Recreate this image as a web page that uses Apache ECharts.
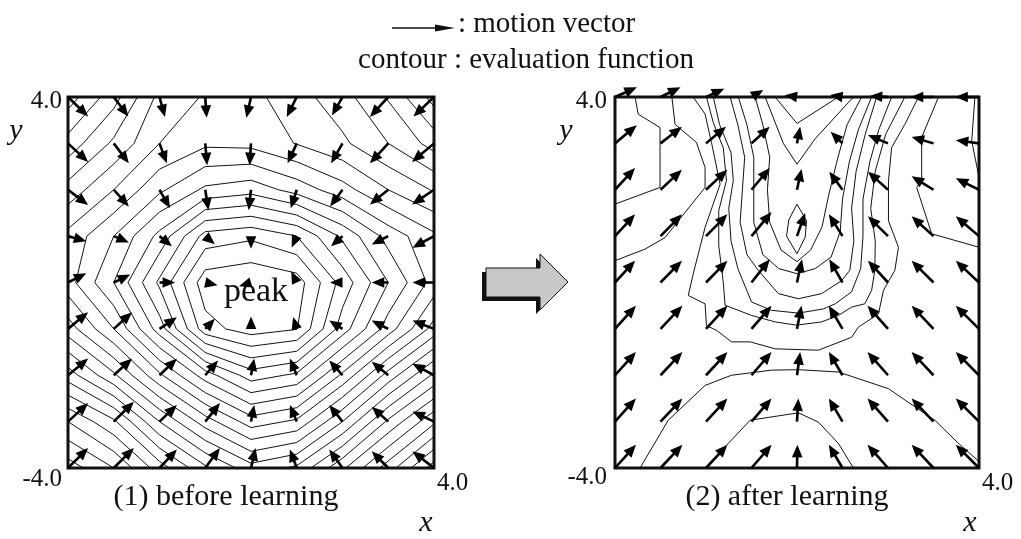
<!DOCTYPE html>
<html><head><meta charset="utf-8">
<script src="https://cdn.jsdelivr.net/npm/echarts@6/dist/echarts.min.js"></script>
<style>html,body{margin:0;padding:0;background:#fff}#c{width:1021px;height:539px}</style>
</head><body><div id="c"></div>
<script>
// ---------- data ----------
const gridX = [-4, -3, -2, -1, 0, 1, 2, 3, 4];
const gridY = [4, 3, 2, 1, 0, -1, -2, -3, -4];
const tickLabels = ['-4.0', '4.0'];

// evaluation function before learning (rows y=4..-4, cols x=-4..4)
const evalBefore = [
  [9.5, 11.6, 14.3, 15.1, 15.3, 14.4, 13.4, 11.9, 9.6],
  [11.4, 13.2, 15.0, 15.8, 15.7, 14.95, 14.2, 13.0, 11.6],
  [13.4, 15.0, 16.8, 18.2, 18.6, 17.6, 16.4, 15.0, 13.9],
  [15.3, 17.0, 19.3, 22.4, 22.8, 22.0, 19.8, 17.6, 16.2],
  [15.6, 18.0, 21.2, 24.6, 24.9, 24.5, 21.6, 19.0, 16.6],
  [13.5, 16.0, 19.5, 23.6, 24.5, 24.05, 20.5, 17.5, 14.6],
  [10.5, 12.8, 15.8, 18.5, 20.5, 19.8, 16.8, 13.6, 10.8],
  [7.0, 8.8, 12.0, 14.5, 16.5, 15.8, 13.0, 9.8, 7.2],
  [4.5, 6.0, 8.5, 10.8, 12.6, 11.8, 9.2, 6.5, 3.5]
];
const levelsBefore = [4, 5, 6, 7, 8, 9, 10, 11, 12, 13, 14, 15, 16, 17, 18, 19, 20, 21, 22, 23, 24];

// motion vectors before learning
const vecBeforeDX = [
  [0.44, 0.32, 0.12, 0.03, -0.10, -0.22, -0.23, -0.40, -0.45],
  [0.44, 0.33, 0.16, 0.04, -0.03, -0.20, -0.25, -0.40, -0.48],
  [0.44, 0.33, 0.23, 0.07, -0.05, -0.13, -0.27, -0.40, -0.48],
  [0.40, 0.33, 0.27, 0.12, 0.00, -0.10, -0.25, -0.36, -0.47],
  [0.40, 0.36, 0.34, 0.14, -0.10, -0.05, -0.22, -0.36, -0.47],
  [0.44, 0.40, 0.38, 0.21, 0.00, -0.04, -0.29, -0.36, -0.47],
  [0.44, 0.40, 0.38, 0.28, 0.07, -0.15, -0.29, -0.36, -0.47],
  [0.44, 0.44, 0.38, 0.32, 0.07, -0.15, -0.29, -0.36, -0.47],
  [0.44, 0.44, 0.38, 0.32, 0.10, -0.15, -0.29, -0.36, -0.47]
];
const vecBeforeDY = [
  [-0.42, -0.42, -0.43, -0.45, -0.45, -0.43, -0.40, -0.43, -0.42],
  [-0.40, -0.43, -0.43, -0.47, -0.47, -0.43, -0.43, -0.43, -0.40],
  [-0.33, -0.36, -0.40, -0.44, -0.44, -0.40, -0.36, -0.32, -0.32],
  [-0.11, -0.14, -0.22, -0.10, -0.17, -0.22, -0.22, -0.18, -0.25],
  [0.20, 0.17, 0.00, -0.03, -0.03, 0.10, 0.00, 0.00, 0.00],
  [0.36, 0.36, 0.25, 0.22, 0.10, 0.13, 0.18, 0.18, 0.18],
  [0.36, 0.36, 0.36, 0.32, 0.36, 0.36, 0.32, 0.29, 0.25],
  [0.40, 0.43, 0.36, 0.40, 0.36, 0.36, 0.36, 0.32, 0.22],
  [0.43, 0.43, 0.40, 0.43, 0.43, 0.40, 0.40, 0.36, 0.36]
];

// motion vectors after learning
const vecAfterDX = [
  [0.48, 0.44, 0.40, 0.26, -0.15, -0.20, -0.40, -0.50, -0.52],
  [0.48, 0.47, 0.44, 0.40, 0.07, -0.26, -0.44, -0.48, -0.51],
  [0.44, 0.47, 0.47, 0.40, 0.10, -0.29, -0.44, -0.48, -0.51],
  [0.44, 0.47, 0.47, 0.44, 0.18, -0.30, -0.44, -0.48, -0.51],
  [0.44, 0.47, 0.47, 0.40, 0.11, -0.29, -0.44, -0.48, -0.51],
  [0.46, 0.48, 0.47, 0.44, 0.10, -0.30, -0.45, -0.48, -0.51],
  [0.46, 0.48, 0.47, 0.44, 0.07, -0.30, -0.45, -0.48, -0.51],
  [0.46, 0.48, 0.47, 0.44, 0.03, -0.30, -0.45, -0.48, -0.51],
  [0.46, 0.48, 0.47, 0.44, 0.01, -0.30, -0.45, -0.48, -0.51]
];
const vecAfterDY = [
  [0.21, 0.21, 0.18, 0.15, 0.02, 0.03, 0.02, 0.00, 0.00],
  [0.39, 0.36, 0.36, 0.36, 0.36, 0.25, 0.18, 0.14, 0.07],
  [0.47, 0.43, 0.43, 0.47, 0.45, 0.39, 0.39, 0.29, 0.25],
  [0.47, 0.47, 0.47, 0.52, 0.50, 0.47, 0.43, 0.43, 0.43],
  [0.47, 0.47, 0.47, 0.50, 0.50, 0.50, 0.47, 0.47, 0.47],
  [0.50, 0.50, 0.50, 0.50, 0.50, 0.50, 0.50, 0.50, 0.50],
  [0.50, 0.50, 0.50, 0.50, 0.50, 0.50, 0.50, 0.50, 0.50],
  [0.50, 0.50, 0.50, 0.50, 0.50, 0.50, 0.50, 0.50, 0.50],
  [0.50, 0.50, 0.50, 0.50, 0.50, 0.50, 0.50, 0.50, 0.50]
];

// contour lines after learning (traced, data coordinates)
const afterLineA = [[-3.56,4],[-3.49,3.63],[-3.01,3.34],[-3.01,2.05],[-4,1.69]];
const afterLineB = [[-2.75,4],[-2.68,3.41],[-2.21,3.02],[-2.02,2.48],[-2.02,2.05],[-2.9,0.97],[-3.34,0.72],[-4,0.47]];
const afterLineC = [[-2.28,4],[-2.02,3.63],[-1.88,3.02],[-1.69,2.12],[-2.02,1.19],[-2.28,0.19],[-2.39,-0.28],[-2.02,-0.46],[-1.99,-0.93],[-1.77,-1.03],[-1.44,-1.28],[-1.03,-1.28],[-0.48,-1.43],[0.47,-1.46],[1.2,-1.18],[1.35,-0.96],[1.79,-0.68],[1.9,-0.17],[2.15,0.26],[2.23,0.76],[2.01,1.33],[2.01,2.19],[2.08,2.91],[2.37,3.41],[2.67,4]];
const afterLineD = [[3.11,4],[2.74,3.13],[2.74,2.19],[2.63,2.05],[2.96,1.05],[4,0.76]];
const afterLineE = [[3.91,4],[3.84,3.05],[4,2.27]];
const afterLineF = [[-3.45,-4],[-2.83,-2.97],[-2.02,-2.22],[-1.44,-2.0],[-0.56,-1.89],[0.03,-1.88],[0.91,-1.93],[2.01,-2.29],[2.59,-2.68],[3.03,-2.97],[3.55,-3.47],[4,-3.86]];
const afterLineG = [[-2.02,-4],[-1.51,-3.47],[-1.03,-2.97],[0.03,-2.81],[0.47,-3.01],[0.91,-3.47],[1.24,-4]];
const afterLineU2 = [[-1.99,4],[-1.84,3.45],[-1.62,2.9],[-1.55,2.2],[-1.72,1.55],[-1.72,0.8],[-1.62,0.0],[-1.58,-0.49],[-1.0,-0.71],[-0.48,-0.85],[-0.01,-0.92],[0.54,-0.85],[0.91,-0.71],[1.2,-0.53],[1.49,-0.46],[1.64,-0.17],[1.71,0.26],[1.72,0.9],[1.62,1.6],[1.72,2.4],[1.95,3.2],[2.37,4]];
const afterLineU3 = [[-1.84,4],[-1.7,3.4],[-1.45,2.8],[-1.4,2.2],[-1.5,1.6],[-1.45,0.9],[-1.3,0.3],[-1.0,-0.42],[-0.56,-0.6],[0.03,-0.66],[0.58,-0.57],[0.84,-0.46],[1.2,-0.2],[1.4,0.3],[1.45,1.0],[1.45,1.8],[1.6,2.6],[1.8,3.3],[2.08,4]];
const afterLineU4 = [[-1.47,4],[-1.3,3.4],[-1.15,2.7],[-1.2,2.0],[-1.25,1.3],[-1.1,0.6],[-0.85,0.26],[-0.41,-0.24],[0.03,-0.35],[0.54,-0.24],[0.98,0.04],[1.16,0.26],[1.25,0.9],[1.2,1.6],[1.3,2.4],[1.5,3.2],[1.75,4]];
const afterLineU5 = [[-1.29,4],[-1.1,3.4],[-0.95,2.7],[-0.95,2.0],[-0.95,1.3],[-0.75,0.6],[-0.4,0.3],[0.0,0.19],[0.4,0.3],[0.75,0.55],[0.95,1.1],[1.0,1.8],[1.15,2.6],[1.35,3.3],[1.64,4]];
const afterLineU6 = [[-0.92,4],[-0.75,3.4],[-0.6,2.7],[-0.65,2.0],[-0.6,1.3],[-0.35,0.7],[0.0,0.45],[0.3,0.7],[0.55,1.2],[0.7,1.9],[0.9,2.7],[1.1,3.4],[1.42,4]];
const afterLineV1 = [[-0.48,4],[0.0,3.43],[0.91,4]];
const afterLineV2 = [[-0.7,4],[-0.3,3.0],[0.0,2.55],[0.4,3.1],[1.24,4]];
const afterLineLoop = [[0.0,1.69],[0.21,1.33],[0.18,0.98],[0.0,0.62],[-0.23,1.0],[-0.18,1.35],[0.0,1.69]];

// ---------- build ----------
function contourSegments(V, levels) {
  const segs = [];
  for (let r = 0; r < gridY.length - 1; r++) {
    for (let c = 0; c < gridX.length - 1; c++) {
      const p = [
        [gridX[c], gridY[r], V[r][c]],
        [gridX[c + 1], gridY[r], V[r][c + 1]],
        [gridX[c + 1], gridY[r + 1], V[r + 1][c + 1]],
        [gridX[c], gridY[r + 1], V[r + 1][c]]
      ];
      levels.forEach(L => {
        const pts = [];
        for (let e = 0; e < 4; e++) {
          const a = p[e], b = p[(e + 1) % 4];
          if ((a[2] < L) !== (b[2] < L)) {
            const t = (L - a[2]) / (b[2] - a[2]);
            pts.push([a[0] + t * (b[0] - a[0]), a[1] + t * (b[1] - a[1])]);
          }
        }
        if (pts.length === 2) segs.push({ coords: pts });
        else if (pts.length === 4) {
          segs.push({ coords: [pts[0], pts[1]] });
          segs.push({ coords: [pts[2], pts[3]] });
        }
      });
    }
  }
  return segs;
}
function vectorData(DX, DY) {
  const out = [];
  gridY.forEach((y, r) => gridX.forEach((x, c) => out.push([x, y, DX[r][c], DY[r][c]])));
  return out;
}
function arrowRender(params, api) {
  const x = api.value(0), y = api.value(1), dx = api.value(2), dy = api.value(3);
  const s = api.coord([x, y]);
  let e = api.coord([x + dx, y + dy]);
  let vx = e[0] - s[0], vy = e[1] - s[1];
  let len = Math.hypot(vx, vy) || 1;
  const ux = vx / len, uy = vy / len;
  const hl = 12.5, hw = 5.3;
  if (len < hl) { len = hl; e = [s[0] + ux * hl, s[1] + uy * hl]; }
  const bx = e[0] - ux * hl, by = e[1] - uy * hl;
  const ch = [];
  if (len > hl + 0.5) ch.push({ type: 'line', shape: { x1: s[0], y1: s[1], x2: bx + ux, y2: by + uy }, style: { stroke: '#000', lineWidth: 2.6 } });
  ch.push({ type: 'polygon', shape: { points: [[e[0], e[1]], [bx - uy * hw, by + ux * hw], [bx + uy * hw, by - ux * hw]] }, style: { fill: '#000' } });
  return { type: 'group', children: ch };
}

const afterLines = [afterLineA, afterLineB, afterLineC, afterLineD, afterLineE, afterLineF, afterLineG,
  afterLineU2, afterLineU3, afterLineU4, afterLineU5, afterLineU6, afterLineV1, afterLineV2, afterLineLoop];

const serif = "'Liberation Serif','Times New Roman',serif";
const axisCommon = { type: 'value', min: -4, max: 4, interval: 1, axisLine: { show: false }, axisTick: { show: false }, axisLabel: { show: false }, splitLine: { show: false } };

const chart = echarts.init(document.getElementById('c'), null, { renderer: 'canvas' });
function txt(text, x, y, size, opt) {
  return { type: 'text', x: x, y: y, style: Object.assign({ text: text, fontFamily: serif, fontSize: size, fill: '#111', textAlign: 'center', textVerticalAlign: 'middle' }, opt || {}) };
}
const arrowPoly = [[486,268],[540,268],[540,254],[568,282],[540,310],[540,297],[486,297]];
chart.setOption({
  animation: false,
  grid: [
    { left: 68, top: 97, width: 366, height: 371, show: true, borderColor: '#111', borderWidth: 3, backgroundColor: 'transparent' },
    { left: 615, top: 97, width: 364, height: 371, show: true, borderColor: '#111', borderWidth: 3, backgroundColor: 'transparent' }
  ],
  xAxis: [Object.assign({ gridIndex: 0 }, axisCommon), Object.assign({ gridIndex: 1 }, axisCommon)],
  yAxis: [Object.assign({ gridIndex: 0 }, axisCommon), Object.assign({ gridIndex: 1 }, axisCommon)],
  series: [
    { type: 'lines', coordinateSystem: 'cartesian2d', xAxisIndex: 0, yAxisIndex: 0, polyline: false, silent: true,
      lineStyle: { color: '#111', width: 1, opacity: 1 }, data: contourSegments(evalBefore, levelsBefore), z: 2 },
    { type: 'lines', coordinateSystem: 'cartesian2d', xAxisIndex: 1, yAxisIndex: 1, polyline: true, silent: true,
      lineStyle: { color: '#111', width: 1, opacity: 1 }, data: afterLines.map(l => ({ coords: l })), z: 2 },
    { type: 'custom', xAxisIndex: 0, yAxisIndex: 0, renderItem: arrowRender, clip: false, silent: true,
      encode: { x: 0, y: 1 }, data: vectorData(vecBeforeDX, vecBeforeDY), z: 5 },
    { type: 'custom', xAxisIndex: 1, yAxisIndex: 1, renderItem: arrowRender, clip: false, silent: true,
      encode: { x: 0, y: 1 }, data: vectorData(vecAfterDX, vecAfterDY), z: 5 }
  ],
  graphic: [
    // legend
    { type: 'line', shape: { x1: 392, y1: 28, x2: 440, y2: 28 }, style: { stroke: '#111', lineWidth: 1.5 } },
    { type: 'polygon', shape: { points: [[435, 24.5], [455, 28], [435, 31.5]] }, style: { fill: '#111' } },
    txt(': motion vector', 458, 24, 29, { textAlign: 'left' }),
    txt('contour : evaluation function', 526, 60, 29),
    // panel 1 labels
    txt(tickLabels[1], 62, 101, 25, { textAlign: 'right' }),
    txt(tickLabels[0], 62, 479, 25, { textAlign: 'right' }),
    txt(tickLabels[1], 437, 483, 25, { textAlign: 'left' }),
    txt('y', 16, 131, 30, { fontStyle: 'italic' }),
    txt('x', 426, 523, 30, { fontStyle: 'italic' }),
    txt('(1) before learning', 226, 497, 30),
    txt('peak', 256, 292, 34),
    // panel 2 labels
    txt(tickLabels[1], 607, 101, 25, { textAlign: 'right' }),
    txt(tickLabels[0], 607, 477, 25, { textAlign: 'right' }),
    txt(tickLabels[1], 982, 483, 25, { textAlign: 'left' }),
    txt('y', 566, 131, 30, { fontStyle: 'italic' }),
    txt('x', 970, 523, 30, { fontStyle: 'italic' }),
    txt('(2) after learning', 787, 497, 30),
    // block arrow
    { type: 'polygon', x: -4, y: 4, shape: { points: arrowPoly }, style: { fill: '#111' } },
    { type: 'polygon', shape: { points: arrowPoly }, style: { fill: '#c8c8c8', stroke: '#111', lineWidth: 1 } }
  ]
});
</script></body></html>
